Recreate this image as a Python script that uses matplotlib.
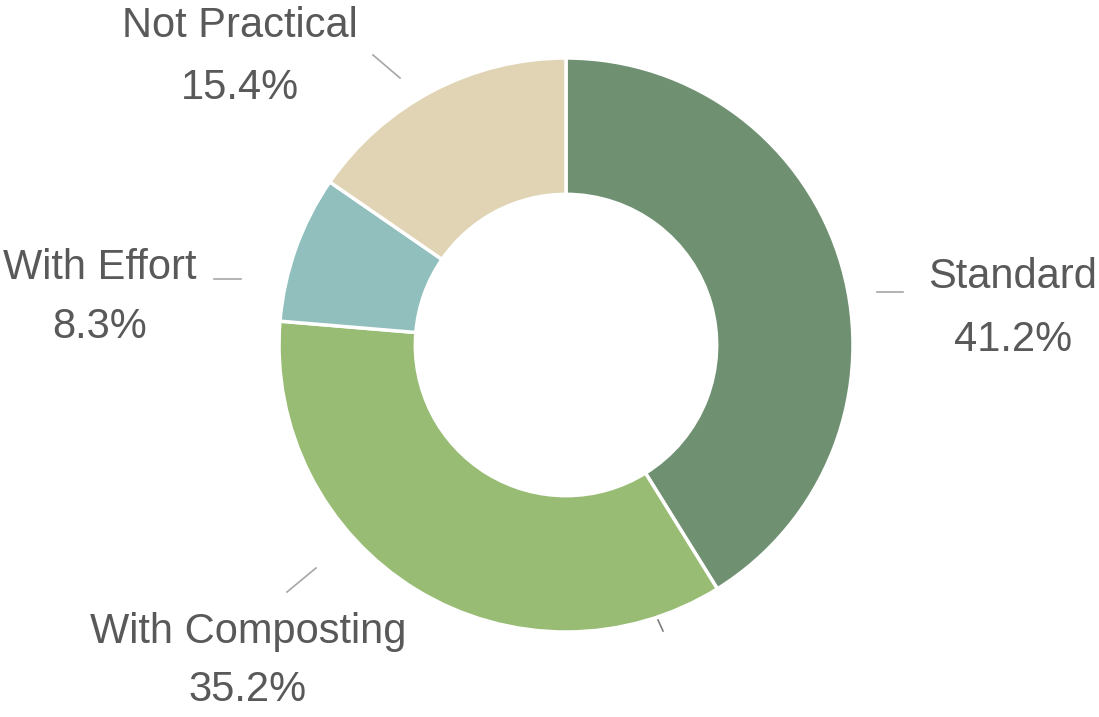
import matplotlib
matplotlib.use("Agg")
import matplotlib.pyplot as plt
from matplotlib import font_manager

categories = ["Standard", "With Composting", "With Effort", "Not Practical"]
values = [41.2, 35.2, 8.3, 15.4]
colors = ["#6f9172", "#98bc74", "#90bfbd", "#e1d4b4"]

names = {f.name for f in font_manager.fontManager.ttflist}
fam = ["Liberation Sans Narrow", "Liberation Sans", "DejaVu Sans"]
fam = [f for f in fam if f in names] or ["DejaVu Sans"]

W, H = 1099, 717
fig = plt.figure(figsize=(W / 100, H / 100), dpi=100)
ax = fig.add_axes([0, 0, 1, 1])

cx, cy = 566, H - 345
R = 287
wedges, _ = ax.pie(values, colors=colors, startangle=90, counterclock=False,
                   center=(cx, cy), radius=R, frame=True,
                   wedgeprops=dict(width=R * 0.475, edgecolor="white", linewidth=2.5))
ax.set_xlim(0, W)
ax.set_ylim(0, H)
ax.set_aspect("equal")
ax.axis("off")

# label positions (pixel coords from top) and leader lines
label_pos = [(1013, 277, 340), (248, 632, 690), (100, 268, 327), (240, 26, 88)]
leaders = [((877, 292), (903, 292)), ((287, 592), (316, 568)),
           ((214, 279), (241, 279)), ((373, 55), (400, 78))]
txt_color = "#595959"
for name, val, (lx, ly1, ly2), ((x1, y1), (x2, y2)) in zip(categories, values, label_pos, leaders):
    ax.text(lx, H - ly1, name, ha="center", va="center", fontsize=30,
            color=txt_color, family=fam)
    ax.text(lx, H - ly2, f"{val:.1f}%", ha="center", va="center", fontsize=30,
            color=txt_color, family=fam)
    ax.plot([x1, x2], [H - y1, H - y2], color="#a6a6a6", lw=1.2)

ax.plot([658, 663], [H - 620, H - 631], color="#7f7f7f", lw=1.2)

fig.savefig("out.png", dpi=100)
